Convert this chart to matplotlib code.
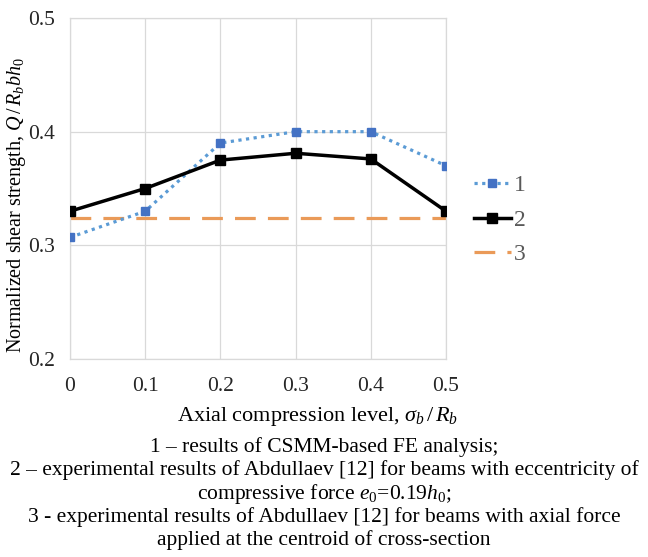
import matplotlib
matplotlib.use("Agg")
import matplotlib.pyplot as plt

# axial compression level sigma_b / R_b
compression = [0.0, 0.1, 0.2, 0.3, 0.4, 0.5]
# 1 - CSMM-based FE analysis
fe_results = [0.307, 0.330, 0.390, 0.400, 0.400, 0.370]
# 2 - Abdullaev, eccentric compressive force
exp_eccentric = [0.330, 0.350, 0.375, 0.381, 0.376, 0.330]
# 3 - Abdullaev, axial force at the centroid
exp_centroid = [0.324, 0.324, 0.324, 0.324, 0.324, 0.324]

series_labels = ["1", "2", "3"]
x_ticks = [0, 0.1, 0.2, 0.3, 0.4, 0.5]
x_tick_labels = ["0", "0.1", "0.2", "0.3", "0.4", "0.5"]
y_ticks = [0.2, 0.3, 0.4, 0.5]
y_tick_labels = ["0.2", "0.3", "0.4", "0.5"]

caption = [
    "1 \u2013 results of CSMM-based FE analysis;",
    "2 \u2013 experimental results of Abdullaev [12] for beams with eccentricity of",
    "compressive force $e_{\\mathrm{0}}$=0.19$h_{\\mathrm{0}}$;",
    "3 - experimental results of Abdullaev [12] for beams with axial force",
    "applied at the centroid of cross-section",
]

plt.rcParams["font.family"] = ["Liberation Serif", "DejaVu Serif"]
plt.rcParams["mathtext.fontset"] = "custom"
plt.rcParams["mathtext.rm"] = "Liberation Serif"
plt.rcParams["mathtext.it"] = "Liberation Serif:italic"

W, H = 648, 557
fig = plt.figure(figsize=(W / 100, H / 100), dpi=100)
ax = fig.add_axes([70 / W, 1 - 359 / H, 376 / W, 341 / H])

grid_col = "#D9D9D9"
ax.plot(compression, fe_results, color="#5B9BD5", lw=2.3, linestyle=(0, (1, 1.4)),
        marker="s", markersize=6, markerfacecolor="#4472C4",
        markeredgecolor="#4472C4", label=series_labels[0], zorder=3)
ax.plot(compression, exp_eccentric, color="black", lw=2.5,
        marker="s", markersize=6.5, label=series_labels[1], zorder=4)
ax.plot(compression, exp_centroid, color="#EA9A58", lw=2.3,
        linestyle=(0, (6.5, 3.8)), label=series_labels[2], zorder=2)

ax.set_xlim(0, 0.5)
ax.set_ylim(0.2, 0.5)
ax.set_xticks(x_ticks, x_tick_labels)
ax.set_yticks(y_ticks, y_tick_labels)
ax.tick_params(length=0, labelsize=15.5, labelcolor="#262626")
ax.tick_params(axis="x", pad=13)
ax.tick_params(axis="y", pad=11)
ax.grid(True, color=grid_col, lw=0.9)
for s in ax.spines.values():
    s.set_color(grid_col)
    s.set_linewidth(0.9)

ax.set_ylabel("Normalized shear strength, $Q\\,/\\,R_b bh_0$", fontsize=14.5)
ax.yaxis.set_label_coords(-42 / 376, 0.45)

fig.text(0.49, 1 - 416 / H, "Axial compression level, $\\sigma_b\\,/\\,R_b$",
         ha="center", va="center", fontsize=16)

leg = ax.legend(loc="center left", bbox_to_anchor=(474 / W, 1 - 220 / H),
                bbox_transform=fig.transFigure, frameon=False, fontsize=17,
                borderpad=0, borderaxespad=0, handlelength=1.55,
                handletextpad=0.15, labelspacing=0.55)
for t in leg.get_texts():
    t.set_color("#595959")

for i, line in enumerate(caption):
    fig.text(0.5, 1 - (447 + 23.3 * i) / H, line, ha="center", va="center",
             fontsize=15.5)

fig.savefig("out.png", dpi=100)
